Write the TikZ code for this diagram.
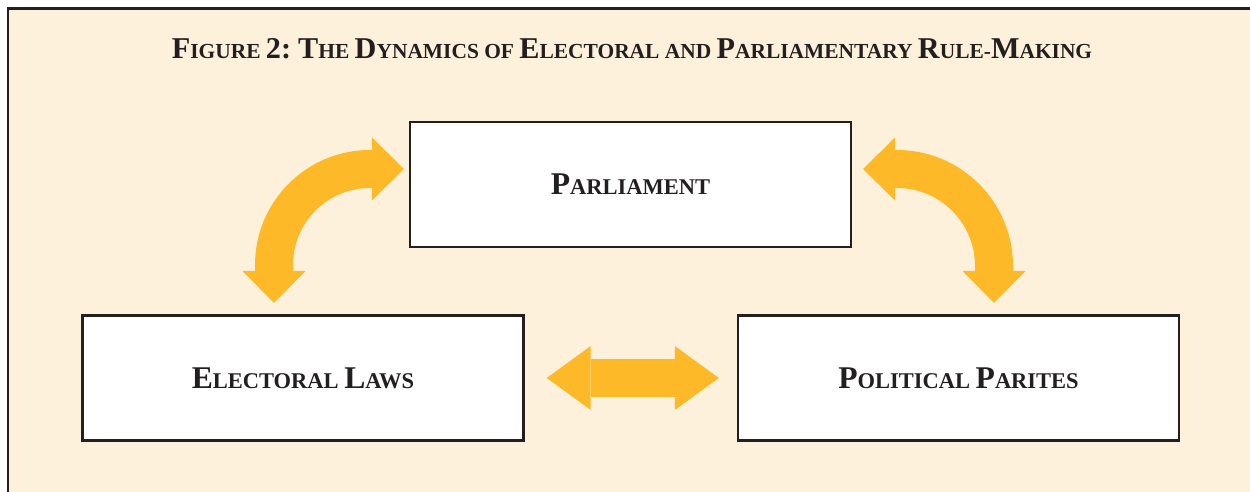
\documentclass[tikz,border=0pt]{standalone}
\usepackage{fontspec}
\setmainfont{Liberation Serif}
\usetikzlibrary{arrows.meta}
\definecolor{panel}{HTML}{FDF1DC}
\definecolor{gold}{HTML}{FDB927}
\definecolor{ink}{HTML}{231F20}
\newcommand{\Cap}[2][17.2]{{\fontsize{#1}{#1}\selectfont #2}}

\begin{document}
\begin{tikzpicture}[x=0.02cm,y=0.02cm,>={Triangle[width=1.26cm,length=0.64cm,line width=0pt]},auto]
	\tikzstyle{every node}=[text=ink]
	\tikzstyle{box}=[draw=ink,line width=0.05cm,fill=white,minimum width=8.82cm,minimum height=2.5cm,inner sep=0pt,font=\bfseries\fontsize{12.8}{14}\selectfont]
	\tikzstyle{bigarrow}=[color=gold,line width=0.76cm]

	\useasboundingbox (0,0) rectangle (1250,492);
	\clip (0,0) rectangle (1250,492);
	\fill[white] (0,0) rectangle (1250,492);
	\draw[draw=ink,fill=panel,line width=0.06cm] (8,-20) rectangle (1270,483);

	\node[font=\bfseries\fontsize{12.2}{14}\selectfont] (title) at (632,443) {\Cap{F}IGURE \Cap{2:} \Cap{T}HE \Cap{D}YNAMICS OF \Cap{E}LECTORAL AND \Cap{P}ARLIAMENTARY \Cap{R}ULE-\Cap{M}AKING};
	\node[box] (parl) at (630.5,307.5) {\Cap[18]{P}ARLIAMENT};
	\node[box] (laws) at (303,114) {\Cap[18]{E}LECTORAL \Cap[18]{L}AWS};
	\node[box] (parties) at (958.5,114) {\Cap[18]{P}OLITICAL \Cap[18]{P}ARITES};

	\coordinate (lb) at (274,189);
	\coordinate (lt) at (404,323);
	\coordinate (rt) at (863,323);
	\coordinate (rb) at (994,189);

	\draw[bigarrow,<->] (lb) -- ++(0,38) arc[start angle=180,end angle=90,radius=96] -- (lt);
	\draw[bigarrow,<->] (rt) -- ++(34,0) arc[start angle=90,end angle=0,radius=97] -- (rb);
	\path[bigarrow,<->,>={Triangle[width=1.28cm,length=0.88cm,line width=0pt]},shorten <=0.44cm,shorten >=0.36cm]
		(laws) edge (parties);
\end{tikzpicture}
\end{document}
